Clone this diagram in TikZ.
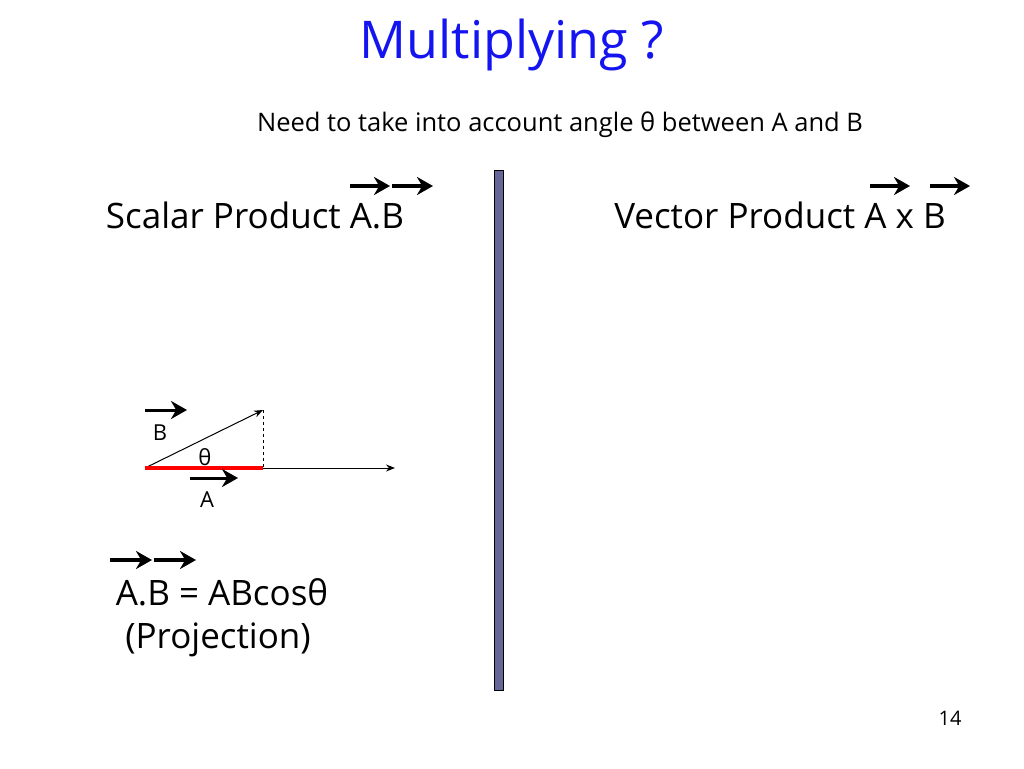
\documentclass[tikz,border=0pt]{standalone}
\usepackage{fontspec}
\setmainfont{Open Sans}
\usetikzlibrary{arrows.meta}
\begin{document}
\begin{tikzpicture}[x=1pt,y=-1pt,
  vec/.style={line width=3.5pt,-{Stealth[length=16pt,width=18pt]}},
  thin/.style={line width=1pt,-{Stealth[length=9pt,width=7pt]}},
  big/.style={font=\fontsize{35}{40}\selectfont}]
\useasboundingbox (0,0) rectangle (1024,768);
\node (title) at (512,45) {\fontsize{52}{58}\selectfont\color[RGB]{20,20,240}Multiplying ?};
\node (need) at (560,125) {\fontsize{25.5}{28}\selectfont Need to take into account angle θ between A and B};
\node[big] (sp) at (255,215) {Scalar Product A.B};
\node[big] (vp) at (780,215) {Vector Product A x B};
\coordinate (a1) at (350,186); \coordinate (a2) at (390,186);
\coordinate (a3) at (392,186); \coordinate (a4) at (433,186);
\draw[vec] (a1) -- (a2); \draw[vec] (a3) -- (a4);
\coordinate (b1) at (870,186); \coordinate (b2) at (910,186);
\coordinate (b3) at (930,186); \coordinate (b4) at (970,186);
\draw[vec] (b1) -- (b2); \draw[vec] (b3) -- (b4);
\draw[fill={rgb,255:red,102;green,102;blue,153}, draw=black] (494,170) rectangle (503,690);
% diagram
\coordinate (O) at (145,468); \coordinate (P) at (263,468);
\coordinate (Q) at (263,410); \coordinate (E) at (395,468);
\draw[thin] (P) -- (E);
\draw[thin] (O) -- (Q);
\draw[dashed] (Q) -- (P);
\draw[red, line width=4pt] (O) -- (P);
\node (th) at (205,457) {\fontsize{22}{24}\selectfont θ};
\node (lb) at (160,433) {\fontsize{22}{24}\selectfont B};
\draw[vec,line width=3pt] (145,410) -- (187,410);
\node (la) at (207,500) {\fontsize{22}{24}\selectfont A};
\draw[vec,line width=3pt] (190,478) -- (238,478);
\node[big] (eq) at (222,592) {A.B = ABcosθ};
\draw[vec] (110,560) -- (152,560); \draw[vec] (154,560) -- (196,560);
\node[big] (proj) at (218,640) {(Projection)};
\node (pg) at (950,718) {\fontsize{20}{22}\selectfont 14};
\end{tikzpicture}
\end{document}
